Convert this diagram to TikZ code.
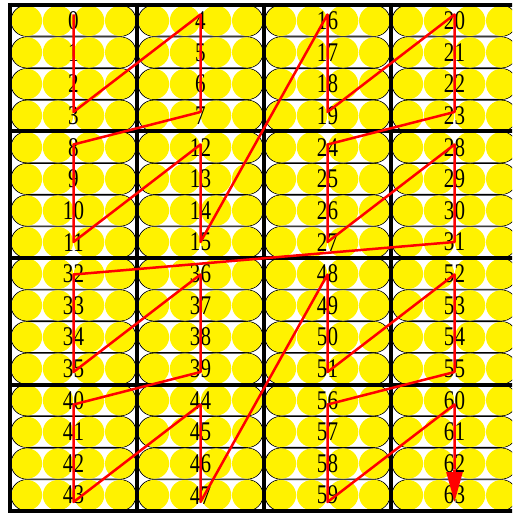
\documentclass[tikz,border=0pt]{standalone}
\usepackage{fontspec}
\setmainfont{Liberation Serif}
\usepackage{graphicx}
\usetikzlibrary{arrows.meta}
\begin{document}
\begin{tikzpicture}[x=1pt,y=-1pt,
  rowbox/.style={draw=black,line width=0.9pt,fill=white,rounded corners=15.5pt},
  dot/.style={fill=yellow,draw=none},
  numlbl/.style={inner sep=0pt,font=\fontsize{27}{27}\selectfont},
  gridline/.style={draw=black,line width=4pt},
  trail/.style={draw=red,line width=2.5pt,line join=round}]
\useasboundingbox (0,0) rectangle (512,513);
\clip (0,0) rectangle (512,513);
\foreach \bi in {0,...,3}{
 \foreach \bj in {0,...,3}{
  \foreach \r in {0,...,3}{
   \pgfmathsetmacro{\bx}{10+127*\bj}
   \pgfmathsetmacro{\rt}{5+126.5*\bi+31.625*\r}
   \pgfmathtruncatemacro{\blk}{mod(\bj,2)+2*mod(\bi,2)+4*int(\bj/2)+8*int(\bi/2)}
   \pgfmathtruncatemacro{\num}{4*\blk+\r}
   \pgfmathtruncatemacro{\R}{4*\bi+\r}
   \draw[rowbox] (\bx+1,\rt+0.4) rectangle (\bx+126,\rt+31.2);
   \foreach \k in {0,...,3}{
     \fill[dot] (\bx+16.9+31.1*\k,\rt+15.8) circle (15.2);
   }
   \node[numlbl] (n\num) at (\bx+63.5,\rt+15.8) {\scalebox{0.78}[1]{\num}};
   \coordinate (p\num) at (\bx+63.5,14.5+32.5*\R);
  }
 }
}
\foreach \k in {0,...,4}{
  \draw[gridline] (8,5+126.5*\k) -- (520,5+126.5*\k);
  \draw[gridline] (10+127*\k,3) -- (10+127*\k,513);
}
\draw[trail] (p0) \foreach \i in {1,...,62}{ -- (p\i)};
\draw[trail,-{Triangle[length=30pt,width=16pt]}] (p62) -- (p63);
\end{tikzpicture}
\end{document}
